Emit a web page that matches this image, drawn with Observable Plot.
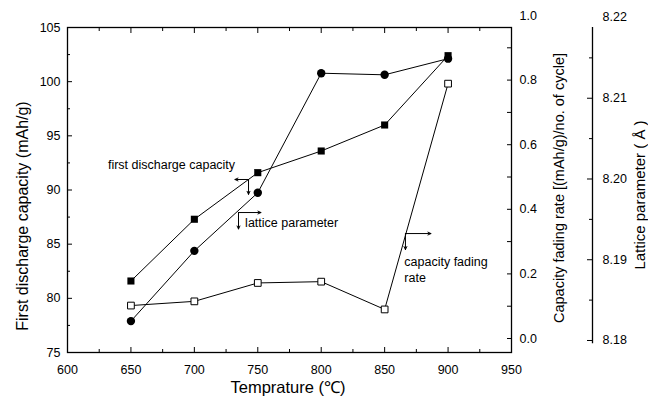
<!DOCTYPE html>
<html><head><meta charset="utf-8">
<script src="https://cdn.jsdelivr.net/npm/d3@7"></script>
<script src="https://cdn.jsdelivr.net/npm/@observablehq/plot@0.6"></script>
<style>
html,body{margin:0;padding:0;background:#fff;}
svg{font-family:"Liberation Sans",Arial,sans-serif;}
</style></head>
<body><div id="chart"></div>
<script>
// Data
const temps = [650, 700, 750, 800, 850, 900];
const capacity = [81.6, 87.3, 91.6, 93.6, 96.0, 102.4];           // mAh/g (left axis)
const fadingRate = [0.102, 0.115, 0.172, 0.176, 0.090, 0.789];    // (mAh/g)/cycle (right axis 1)
const lattice = [8.1824, 8.1911, 8.1983, 8.2131, 8.2129, 8.2149]; // Å (right axis 2)

const xTicks = [600, 650, 700, 750, 800, 850, 900, 950];
const xMinor = [625, 675, 725, 775, 825, 875, 925];
const yTicks = [75, 80, 85, 90, 95, 100, 105];
const yMinor = [77.5, 82.5, 87.5, 92.5, 97.5, 102.5];
const fadeTicks = [0.0, 0.2, 0.4, 0.6, 0.8, 1.0];
const fadeMinor = [0.1, 0.3, 0.5, 0.7, 0.9];
const latTicks = [8.18, 8.19, 8.20, 8.21, 8.22];
const latMinor = [8.185, 8.195, 8.205, 8.215];

// annotations (primary data units)
const annTexts = [
  {x: 682, y: 92.3, text: "first discharge capacity", anchor: "middle"},
  {x: 740, y: 86.9, text: "lattice parameter", anchor: "start"},
  {x: 865.5, y: 83.3, text: "capacity fading\nrate", anchor: "start"}
];
const annArrows = [
  {x1: 742.7, y1: 90.97, x2: 732.0, y2: 90.97},
  {x1: 742.7, y1: 90.97, x2: 742.7, y2: 89.6},
  {x1: 734.8, y1: 87.92, x2: 752.5, y2: 87.92},
  {x1: 734.8, y1: 87.92, x2: 734.8, y2: 86.4},
  {x1: 866.4, y1: 85.98, x2: 886.5, y2: 85.98},
  {x1: 866.4, y1: 85.98, x2: 866.4, y2: 84.5}
];

// mapping of secondary axes onto the primary y scale
const fadeToY = f => 76.292 + 29.815 * f;
const yToFade = v => (v - 76.292) / 29.815;
const latToY = L => 76.108 + 745.4 * (L - 8.18);
const yToLat = v => (v - 76.108) / 745.4 + 8.18;

const capData = temps.map((t, i) => ({t, v: capacity[i]}));
const fadeData = temps.map((t, i) => ({t, v: fadeToY(fadingRate[i])}));
const latData = temps.map((t, i) => ({t, v: latToY(lattice[i])}));

const fs = 12.5;
const chart = Plot.plot({
  width: 648, height: 403,
  marginLeft: 67, marginRight: 137, marginTop: 27, marginBottom: 51,
  style: {fontFamily: '"Liberation Sans", Arial, sans-serif', fontSize: fs + "px", color: "#000", background: "#fff"},
  x: {domain: [600, 950]},
  y: {domain: [75, 105]},
  marks: [
    Plot.frame({stroke: "#000", strokeWidth: 1.3}),
    // x axis bottom
    Plot.axisX(xTicks, {anchor: "bottom", tickSize: -5, tickPadding: 18, tickFormat: d => String(d), label: null, fontSize: fs}),
    Plot.axisX(xMinor, {anchor: "bottom", tickSize: -3, tickFormat: () => "", label: null}),
    Plot.axisX(xTicks, {anchor: "top", tickSize: -5, tickFormat: () => "", label: null}),
    Plot.axisX(xMinor, {anchor: "top", tickSize: -3, tickFormat: () => "", label: null}),
    // left axis
    Plot.axisY(yTicks, {anchor: "left", tickSize: -5, tickPadding: 12, tickFormat: d => String(d), label: null, fontSize: fs}),
    Plot.axisY(yMinor, {anchor: "left", tickSize: -3, tickFormat: () => "", label: null}),
    // right axis 1 : capacity fading rate
    Plot.axisY(fadeTicks.map(fadeToY), {anchor: "right", tickSize: 0, tickPadding: 8, tickFormat: v => yToFade(v).toFixed(1), label: null, fontSize: fs}),
    Plot.axisY(fadeTicks.filter(f => f < 1).concat(fadeMinor).map(fadeToY), {anchor: "right", tickSize: -5, tickFormat: () => "", label: null}),
    // right axis 2 : lattice parameter
    Plot.ruleX([950], {y1: latToY(8.1796), y2: 105, dx: 81, stroke: "#000", strokeWidth: 1.3}),
    Plot.axisY(latTicks.map(latToY), {anchor: "right", dx: 81, tickSize: 0, tickPadding: 10, tickFormat: v => yToLat(v).toFixed(2), label: null, fontSize: fs}),
    Plot.axisY(latTicks.filter(l => l < 8.22).map(latToY), {anchor: "right", dx: 81, tickSize: -6, tickFormat: () => "", label: null}),
    Plot.axisY(latMinor.map(latToY), {anchor: "right", dx: 81, tickSize: -4, tickFormat: () => "", label: null}),
    // series
    Plot.line(capData, {x: "t", y: "v", stroke: "#000", strokeWidth: 1}),
    Plot.line(latData, {x: "t", y: "v", stroke: "#000", strokeWidth: 1}),
    Plot.line(fadeData, {x: "t", y: "v", stroke: "#000", strokeWidth: 1}),
    Plot.dot(fadeData, {x: "t", y: "v", symbol: "square", r: 3.8, fill: "#fff", stroke: "#000", strokeWidth: 1}),
    Plot.dot(latData, {x: "t", y: "v", symbol: "circle", r: 4.2, fill: "#000", stroke: "none"}),
    Plot.dot(capData, {x: "t", y: "v", symbol: "square", r: 4, fill: "#000", stroke: "none"}),
    // annotations
    Plot.arrow(annArrows, {x1: "x1", y1: "y1", x2: "x2", y2: "y2", stroke: "#000", strokeWidth: 1, headLength: 5, headAngle: 50}),
    Plot.text(annTexts.filter(d => d.anchor === "middle"), {x: "x", y: "y", text: "text", textAnchor: "middle", fontSize: fs, fill: "#000"}),
    Plot.text(annTexts.filter(d => d.anchor === "start"), {x: "x", y: "y", text: "text", textAnchor: "start", fontSize: fs, fill: "#000", lineAnchor: "top", dy: -8, lineHeight: 1.3})
  ]
});
document.getElementById("chart").appendChild(chart);

// axis titles as real SVG text
const svg = d3.select(chart);
svg.append("text").attr("x", 288).attr("y", 393).attr("text-anchor", "middle")
  .attr("font-size", 16.5).attr("fill", "#000").text("Temprature (℃)");
svg.append("text").attr("transform", "translate(28,216) rotate(-90)").attr("text-anchor", "middle")
  .attr("font-size", 16).attr("fill", "#000").text("First discharge capacity (mAh/g)");
svg.append("text").attr("transform", "translate(564,188) rotate(-90)").attr("text-anchor", "middle")
  .attr("font-size", 14.5).attr("fill", "#000").text("Capacity fading rate [(mAh/g)/no. of cycle]");
svg.append("text").attr("transform", "translate(645,195) rotate(-90)").attr("text-anchor", "middle")
  .attr("font-size", 15).attr("fill", "#000").text("Lattice parameter ( Å )");
</script>
</body></html>
